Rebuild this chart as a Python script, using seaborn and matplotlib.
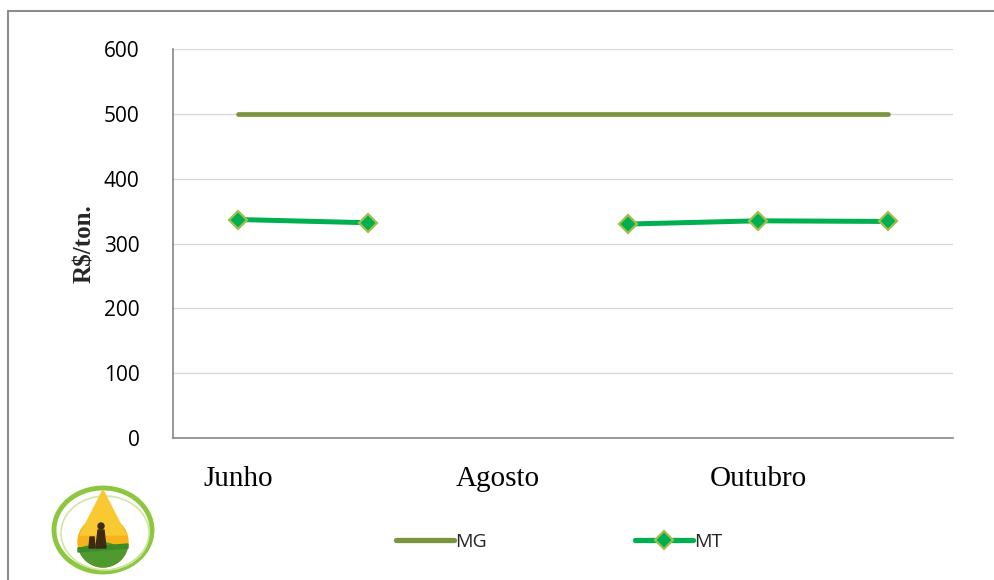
import numpy as np
import pandas as pd
import matplotlib
matplotlib.use("Agg")
import matplotlib.pyplot as plt
import seaborn as sns
from matplotlib.lines import Line2D
from matplotlib.patches import Ellipse, Circle, Polygon, Wedge


months = ["Junho", "Julho", "Agosto", "Setembro", "Outubro", "Novembro"]
shown_months = ["Junho", "", "Agosto", "", "Outubro", ""]
mg_values = [500, 500, 500, 500, 500, 500]
mt_values = [337, 332, np.nan, 330, 335, 334]
y_ticks = [0, 100, 200, 300, 400, 500, 600]

MG_COLOR = "#7A9440"
MT_COLOR = "#00B050"
MT_EDGE = "#A4BE4E"

sns.set_theme(style="white")
plt.rcParams["font.family"] = ["Open Sans", "DejaVu Sans"]

fig = plt.figure(figsize=(9.95, 5.8), dpi=100)
ax = fig.add_axes([173 / 995, 142 / 580, 780 / 995, 389 / 580])

x = np.arange(len(months))
mg = pd.DataFrame({"x": x, "value": mg_values})
mt = pd.DataFrame({"x": x, "value": mt_values})
# split MT at missing months so the gap stays open
mt["segment"] = mt["value"].isna().cumsum()
mt = mt.dropna()

sns.lineplot(data=mg, x="x", y="value", ax=ax, color=MG_COLOR, lw=3.4,
             solid_capstyle="round", legend=False)
sns.lineplot(data=mt, x="x", y="value", units="segment", estimator=None, ax=ax,
             color=MT_COLOR, lw=3.6, marker="D", markersize=9,
             markerfacecolor=MT_COLOR, markeredgecolor=MT_EDGE, markeredgewidth=1.6,
             legend=False)

ax.set_xlim(-0.5, len(months) - 0.5)
ax.set_ylim(0, 600)
ax.set_yticks(y_ticks)
ax.set_xticks(x)
ax.set_xticklabels(shown_months, fontfamily="Liberation Serif", fontsize=21)
ax.tick_params(axis="x", length=0, pad=20, colors="black")
ax.tick_params(axis="y", length=0, pad=24, labelsize=15, colors="black")
ax.yaxis.grid(True, color="#D9D9D9", lw=1)
ax.set_axisbelow(True)
for side in ["top", "right"]:
    ax.spines[side].set_visible(False)
for side in ["left", "bottom"]:
    ax.spines[side].set_color("#868686")
    ax.spines[side].set_linewidth(1.2)
ax.set_xlabel("")
ax.set_ylabel("R$/ton.", fontfamily="Liberation Serif", fontweight="bold",
              fontsize=18, labelpad=6)

handles = [
    Line2D([], [], color=MG_COLOR, lw=3.8, solid_capstyle="round"),
    Line2D([], [], color=MT_COLOR, lw=3.8, solid_capstyle="round", marker="D",
           markersize=9, markerfacecolor=MT_COLOR, markeredgecolor=MT_EDGE,
           markeredgewidth=1.6),
]
fig.legend(handles, ["MG", "MT"], loc="center", bbox_to_anchor=(0.562, 0.066),
           ncol=2, frameon=False, fontsize=14, handlelength=3.0,
           handletextpad=0.05, columnspacing=7.6)

# outer frame (top and left only)
fig.add_artist(Line2D([8 / 995, 1.0], [1 - 11 / 580] * 2, transform=fig.transFigure,
                      color="#8C8C8C", lw=1.5))
fig.add_artist(Line2D([8 / 995] * 2, [0, 1 - 11 / 580], transform=fig.transFigure,
                      color="#8C8C8C", lw=1.5))

# logo, bottom left
logo = fig.add_axes([50 / 995, 0, 110 / 995, 100 / 580])
logo.set_xlim(0, 110)
logo.set_ylim(0, 100)
logo.set_aspect("equal")
logo.axis("off")
logo.add_patch(Ellipse((53, 50), 98, 84, fill=False, ec="#8DC63F", lw=3.5))
logo.add_patch(Ellipse((55, 47), 88, 74, fill=False, ec="#D2E6A4", lw=1.2))
logo.add_patch(Circle((53, 38), 25, color="#F6B31A"))
logo.add_patch(Polygon([[30, 45], [76, 45], [53, 90]], closed=True, color="#F9C932"))
logo.add_patch(Wedge((53, 38), 25, 195, 345, color="#4E9A2E"))
logo.add_patch(Polygon([[28, 32], [78, 36], [78, 32], [28, 28]], closed=True,
                       color="#3E8A26"))
logo.add_patch(Polygon([[46, 32], [48, 50], [54, 50], [56, 32]], closed=True,
                       color="#3C2A12"))
logo.add_patch(Circle((51, 54), 3, color="#3C2A12"))
logo.add_patch(Polygon([[39, 32], [40, 43], [44, 43], [45, 32]], closed=True,
                       color="#3C2A12"))

fig.savefig("out.png", dpi=100)
